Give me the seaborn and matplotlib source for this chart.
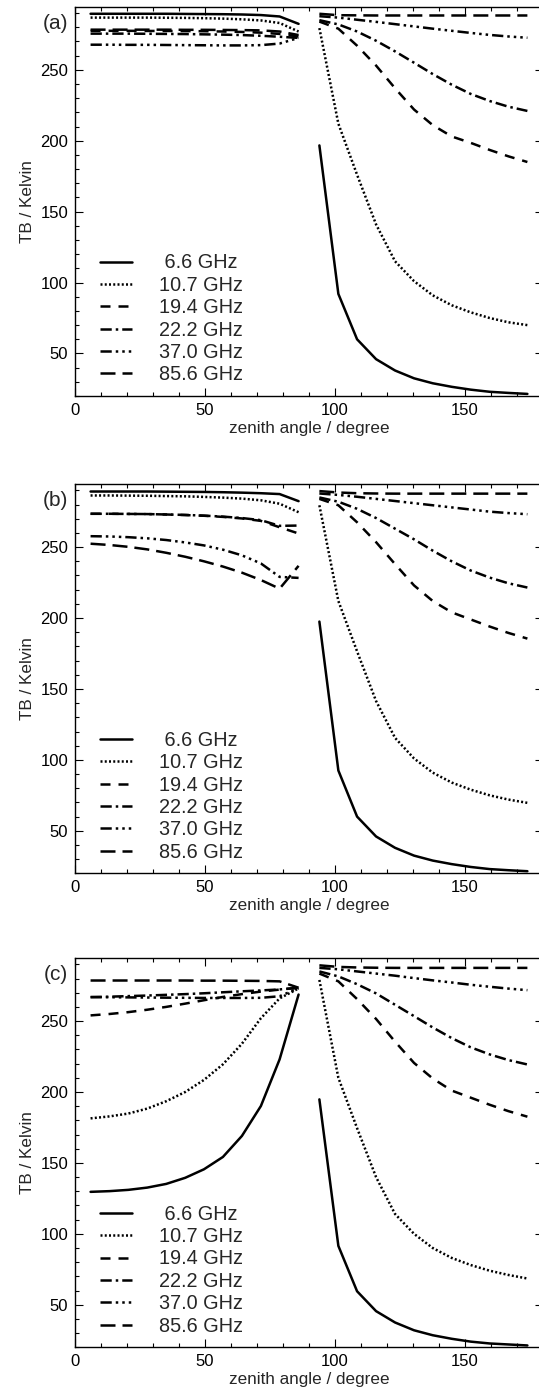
import matplotlib
matplotlib.use("Agg")
import matplotlib.pyplot as plt
from matplotlib.ticker import MultipleLocator
import seaborn as sns

# zenith angles (degree) of the computed streams
left_angle = [6.0, 13.3, 20.5, 27.8, 35.1, 42.4, 49.6, 56.9, 64.2, 71.5, 78.7, 86.0]
right_angle = [94.0, 101.3, 108.5, 115.8, 123.1, 130.4, 137.6, 144.9, 152.2, 159.5, 166.7, 174.0]

freq_labels = [' 6.6 GHz', '10.7 GHz', '19.4 GHz', '22.2 GHz', '37.0 GHz', '85.6 GHz']

# ---- panel (a) ----
L66a = [289.5, 289.5, 289.5, 289.5, 289.5, 289.4, 289.3, 289.2, 289.0, 288.6, 287.6, 282.4]
L107a = [286.8, 286.8, 286.8, 286.8, 286.7, 286.6, 286.4, 286.1, 285.6, 284.8, 283.0, 277.0]
L194a = [277.5, 277.5, 277.5, 277.4, 277.4, 277.3, 277.2, 277.0, 276.7, 276.2, 275.3, 273.5]
L222a = [275.5, 275.5, 275.5, 275.4, 275.3, 275.2, 275.0, 274.8, 274.5, 274.0, 273.3, 272.5]
L370a = [267.7, 267.7, 267.6, 267.6, 267.5, 267.4, 267.3, 267.2, 267.2, 267.4, 268.5, 272.5]
L856a = [278.3, 278.3, 278.3, 278.3, 278.3, 278.2, 278.2, 278.1, 278.0, 277.8, 277.0, 274.5]
R66a = [196.7, 92.0, 60.0, 46.0, 38.0, 32.5, 29.0, 26.5, 24.5, 23.0, 22.2, 21.5]
R107a = [279.4, 212.0, 176.0, 141.0, 115.0, 101.0, 91.0, 84.0, 79.0, 75.0, 72.0, 70.0]
R194a = [284.0, 279.0, 267.0, 253.0, 237.0, 222.0, 211.0, 203.0, 198.5, 193.5, 189.0, 185.0]
R222a = [285.0, 282.0, 277.0, 270.5, 263.0, 255.0, 247.0, 239.5, 233.0, 228.0, 224.0, 221.0]
R370a = [287.8, 286.8, 285.3, 283.8, 282.2, 280.6, 279.0, 277.5, 276.0, 274.6, 273.5, 272.6]
R856a = [289.5, 288.5, 288.4, 288.3, 288.3, 288.3, 288.3, 288.3, 288.3, 288.3, 288.3, 288.3]

# ---- panel (b) ----
L66b = [289.2, 289.2, 289.2, 289.2, 289.1, 289.0, 288.9, 288.7, 288.4, 288.0, 287.4, 282.4]
L107b = [286.4, 286.4, 286.3, 286.2, 286.0, 285.8, 285.4, 284.9, 284.2, 283.0, 280.6, 274.6]
L194b = [273.5, 273.5, 273.4, 273.3, 273.0, 272.6, 272.1, 271.3, 270.2, 268.5, 264.0, 259.6]
L222b = [273.5, 273.5, 273.4, 273.3, 273.0, 272.7, 272.2, 271.5, 270.5, 269.0, 265.0, 265.2]
L370b = [257.7, 257.5, 257.0, 256.2, 255.0, 253.3, 251.2, 248.2, 244.2, 238.5, 229.0, 228.3]
L856b = [252.4, 251.5, 250.2, 248.4, 246.0, 243.2, 240.0, 236.3, 232.0, 226.8, 220.7, 236.8]
R66b = [197.5, 92.5, 60.0, 46.0, 38.0, 32.5, 29.0, 26.5, 24.5, 23.0, 22.2, 21.5]
R107b = [279.5, 212.0, 176.5, 141.5, 115.5, 101.0, 91.0, 84.0, 79.0, 75.0, 72.0, 69.7]
R194b = [284.0, 279.5, 267.5, 253.5, 238.0, 223.0, 212.0, 204.0, 199.0, 194.0, 189.5, 185.5]
R222b = [285.0, 282.0, 277.0, 270.5, 263.0, 255.5, 247.5, 240.0, 233.5, 228.5, 224.5, 221.5]
R370b = [287.8, 286.8, 285.5, 284.0, 282.5, 281.0, 279.5, 278.0, 276.5, 275.0, 274.0, 273.2]
R856b = [289.5, 288.5, 288.0, 287.8, 287.7, 287.7, 287.7, 287.7, 287.7, 287.7, 287.7, 287.7]

# ---- panel (c) ----
L66c = [129.6, 130.1, 131.0, 132.6, 135.2, 139.5, 145.5, 154.2, 169.0, 190.1, 223.0, 268.7]
L107c = [181.4, 182.8, 184.8, 188.3, 193.5, 200.0, 208.5, 219.5, 234.0, 252.0, 266.0, 273.0]
L194c = [254.0, 255.0, 256.3, 258.0, 260.0, 262.3, 264.7, 267.0, 269.0, 270.8, 272.2, 273.5]
L222c = [266.9, 267.2, 267.6, 268.0, 268.5, 269.0, 269.6, 270.3, 271.0, 271.6, 272.3, 273.5]
L370c = [266.9, 266.8, 266.7, 266.6, 266.5, 266.4, 266.3, 266.3, 266.3, 266.4, 267.5, 273.2]
L856c = [278.6, 278.6, 278.6, 278.6, 278.6, 278.6, 278.5, 278.5, 278.4, 278.3, 278.0, 273.5]
R66c = [194.8, 91.5, 59.5, 45.5, 37.5, 32.0, 28.5, 26.0, 24.0, 22.7, 22.0, 21.3]
R107c = [279.0, 210.0, 174.5, 140.0, 114.0, 100.0, 90.0, 83.0, 78.0, 74.0, 71.0, 68.5]
R194c = [283.5, 278.0, 265.5, 251.5, 235.5, 220.5, 209.5, 201.0, 196.0, 191.0, 186.5, 182.6]
R222c = [285.0, 281.5, 276.0, 269.5, 261.5, 253.5, 245.5, 238.0, 231.5, 226.5, 222.5, 219.4]
R370c = [287.5, 286.5, 285.0, 283.5, 282.0, 280.3, 278.7, 277.2, 275.6, 274.2, 272.9, 271.8]
R856c = [289.3, 288.2, 287.8, 287.6, 287.5, 287.5, 287.5, 287.5, 287.5, 287.5, 287.5, 287.5]

panels = [
    ('(a)', [L66a, L107a, L194a, L222a, L370a, L856a], [R66a, R107a, R194a, R222a, R370a, R856a]),
    ('(b)', [L66b, L107b, L194b, L222b, L370b, L856b], [R66b, R107b, R194b, R222b, R370b, R856b]),
    ('(c)', [L66c, L107c, L194c, L222c, L370c, L856c], [R66c, R107c, R194c, R222c, R370c, R856c]),
]

# IDL-like line styles: solid, dotted, dashed, dash-dot, dash-dot-dot-dot, long dashes
line_styles = ['-',
               (0, (0.8, 0.9)),
               (0, (4.0, 3.2)),
               (0, (4.5, 1.6, 1.0, 1.6)),
               (0, (4.5, 1.6, 1.0, 1.6, 1.0, 1.6, 1.0, 1.6)),
               (0, (6.0, 2.8))]

sns.set_style('ticks')
plt.rcParams['font.family'] = ['Liberation Sans', 'DejaVu Sans']
plt.rcParams.update({
    'xtick.direction': 'in', 'ytick.direction': 'in',
    'xtick.top': True, 'ytick.right': True,
    'xtick.major.size': 6, 'ytick.major.size': 6,
    'xtick.minor.size': 3, 'ytick.minor.size': 3,
    'xtick.major.width': 0.8, 'ytick.major.width': 0.8,
    'xtick.minor.width': 0.8, 'ytick.minor.width': 0.8,
    'xtick.major.pad': 5, 'ytick.major.pad': 5,
    'axes.linewidth': 1.0,
    'axes.edgecolor': 'black',
    'xtick.color': 'black', 'ytick.color': 'black',
})

fig = plt.figure(figsize=(5.39, 13.94), dpi=100)
bottoms = [0.7159, 0.3735, 0.0335]

for (tag, left_vals, right_vals), b in zip(panels, bottoms):
    ax = fig.add_axes([0.1391, b, 0.8683, 0.2793])
    for vals, ls, lab in zip(left_vals, line_styles, freq_labels):
        sns.lineplot(x=left_angle, y=vals, ax=ax, color='black', lw=1.8,
                     linestyle=ls, label=lab)
    for vals, ls in zip(right_vals, line_styles):
        sns.lineplot(x=right_angle, y=vals, ax=ax, color='black', lw=1.8,
                     linestyle=ls)
    ax.set_xlim(0, 180)
    ax.set_ylim(20, 294.5)
    ax.xaxis.set_major_locator(MultipleLocator(50))
    ax.xaxis.set_minor_locator(MultipleLocator(10))
    ax.yaxis.set_major_locator(MultipleLocator(50))
    ax.yaxis.set_minor_locator(MultipleLocator(10))
    ax.tick_params(which='both', top=True, right=True, labelsize=12)
    ax.set_xlabel('zenith angle / degree', fontsize=12.3, labelpad=2)
    ax.set_ylabel('TB / Kelvin', fontsize=12.3, labelpad=4)
    ax.text(-0.015, 0.958, tag, transform=ax.transAxes, ha='right', va='center',
            fontsize=15)
    handles, labels = ax.get_legend_handles_labels()
    ax.legend(handles, labels, loc='lower left', bbox_to_anchor=(0.053, 0.03),
              frameon=False, fontsize=14.3, handlelength=1.6, handletextpad=1.4,
              labelspacing=0.17, borderpad=0, borderaxespad=0)

fig.savefig('out.png', dpi=100)
